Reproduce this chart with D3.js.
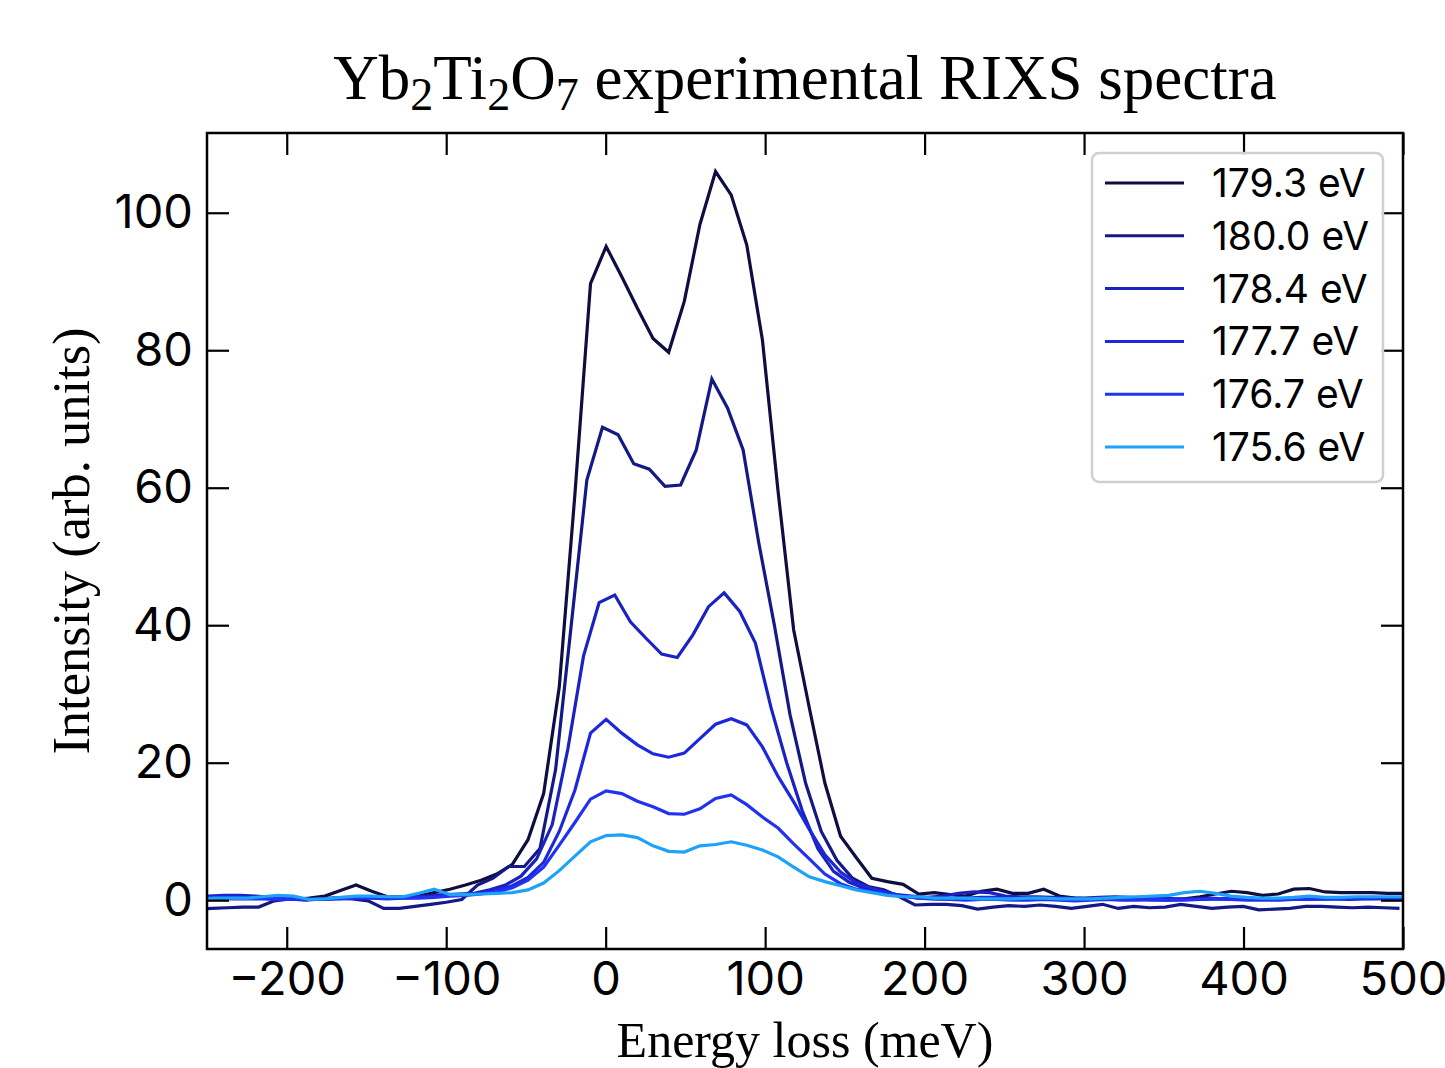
<!DOCTYPE html>
<html lang="en">
<head>
    <meta charset="UTF-8">
    <title>Yb2Ti2O7 experimental RIXS spectra</title>
    <script src="https://d3js.org/d3.v7.min.js"></script>
    <style>
        body { margin: 0; background: #fff; }
        .tick text { font-family: Inter, "Noto Sans", sans-serif; }
        .serif { font-family: "Liberation Serif", "DejaVu Serif", serif; }
    </style>
</head>
<body>
    <div id="chart"></div>
    <script>
        // Energy loss grid (meV), shared by all spectra
        const energy = [
            -254.5, -244.7, -234.9, -225.1, -215.3, -205.5, -195.7, -185.9, -176.1, -166.3,
            -156.5, -146.7, -136.9, -127.1, -117.3, -107.5, -97.7, -87.9, -78.1, -68.3,
            -58.5, -48.7, -38.9, -29.1, -19.3, -9.5, 0.3, 10.1, 19.9, 29.7,
            39.5, 49.3, 59.1, 68.9, 78.7, 88.5, 98.3, 108.1, 117.9, 127.7,
            137.5, 147.3, 157.1, 166.9, 176.7, 186.5, 196.3, 206.1, 215.9, 225.7,
            235.5, 245.3, 255.1, 264.9, 274.7, 284.5, 294.3, 304.1, 313.9, 323.7,
            333.5, 343.3, 353.1, 362.9, 372.7, 382.5, 392.3, 402.1, 411.9, 421.7,
            431.5, 441.3, 451.1, 460.9, 470.7, 480.5, 490.3, 500.1
        ];

        // Legend order
        const labels = ["179.3 eV", "180.0 eV", "178.4 eV", "177.7 eV", "176.7 eV", "175.6 eV"];
        const colors = ["#0e0e40", "#131985", "#1b22c2", "#1c28dc", "#2133f0", "#1ea2f8"];
        // small calibration offsets of each spectrum on the energy axis (meV)
        const energyShift = [0, -2.3, -4.4, 0, 0, 0];

        const s1793 = [
            0.4, 0.5, 0.6, 0.5, 0.3, 0.2, 0.1, 0.3, 0.6, 1.4, 2.2, 1.3, 0.5, 0.4, 0.6, 1.1, 1.6, 2.2,
            2.9, 3.8, 5.2, 8.8, 15.5, 31, 59, 89.7,
            95.1, 90.7, 86.1, 81.7, 79.7, 87.1, 98.3, 106.0, 102.6, 95.3, 81.5, 59.5, 39.3, 28.0, 17.0, 9.3, 6.2,
            3.2, 2.7, 2.3, 0.9, 1.1, 0.8, 0.6, 1.3, 1.6, 1.0, 1.0, 1.6, 0.6, 0.3, 0.2, 0.2, 0.2, 0.2,
            0.1, 0.1, 0.2, 0.5, 0.9, 1.3, 1.1, 0.7, 0.9, 1.6, 1.7, 1.2, 1.1, 1.1, 1.1, 1.0, 1.0
        ];
        const s1800 = [
            -1.3, -1.2, -1.1, -1.0, -1.0, -0.1, 0.2, 0.0, 0.2, 0.3, 0.2, -0.1, -1.2, -1.2, -0.9, -0.6, -0.3, 0.1,
            2.2, 3.2, 4.9, 4.9, 7.5, 19, 40, 61.1,
            68.8, 67.7, 63.5, 62.7, 60.2, 60.4, 65.5, 75.8, 71.6, 65.5, 52, 40, 27, 17, 10, 5.8, 3.2,
            2.0, 1.5, 0.5, -0.7, -0.6, -0.6, -0.8, -1.3, -1.0, -0.8, -0.9, -0.7, -0.9, -1.2, -0.9, -0.6,
            -1.2, -0.9, -1.1, -1.0, -0.6, -0.9, -1.2, -1.0, -0.9, -1.4, -1.3, -1.2, -0.9, -0.9, -1.0, -1.1, -1.0, -1.1, -1.2
        ];
        const s1784 = [
            0.6, 0.6, 0.7, 0.7, 0.6, 0.4, 0.3, 0.2, 0.2, 0.3, 0.4, 0.4, 0.3, 0.5, 0.5, 0.6, 0.8, 0.9,
            1.0, 1.5, 2.2, 3.5, 6.0, 11, 22, 35.5,
            43.3, 44.4, 40.5, 38.1, 35.8, 35.3, 38.6, 42.7, 44.7, 42.0, 37.4, 28, 20, 13, 7.5, 4.2, 2.6,
            1.7, 1.2, 0.8, 0.6, 0.4, 0.6, 1.0, 1.2, 1.1, 0.6, 0.5, 0.5, 0.4, 0.3, 0.3, 0.4, 0.5, 0.4,
            0.3, 0.3, 0.2, 0.2, 0.3, 0.2, 0.1, 0.1, 0.2, 0.2, 0.3, 0.2, 0.2, 0.1, 0.2, 0.3, 0.3
        ];
        const s1777 = [
            0.4, 0.5, 0.5, 0.4, 0.3, 0.3, 0.2, 0.1, 0.1, 0.2, 0.3, 0.4, 0.4, 0.3, 0.4, 0.5, 0.7, 0.8,
            1.0, 1.4, 2.1, 3.3, 5.5, 10, 16, 24.3,
            26.3, 24.3, 22.6, 21.3, 20.8, 21.4, 23.5, 25.6, 26.4, 25.5, 22.3, 18.0, 14.3, 10.3, 6.6, 4.1, 2.5,
            1.7, 1.1, 0.6, 0.3, 0.2, 0.2, 0.3, 0.4, 0.4, 0.3, 0.2, 0.1, 0.1, 0.0, 0.1, 0.2, 0.2,
            0.1, 0.0, 0.0, 0.1, 0.1, 0.2, 0.2, 0.1, 0.1, 0.0, 0.1, 0.2, 0.2, 0.3, 0.3, 0.2, 0.2, 0.3
        ];
        const s1767 = [
            0.3, 0.3, 0.2, 0.2, 0.2, 0.1, 0.1, 0.1, 0.2, 0.3, 0.3, 0.3, 0.2, 0.3, 0.3, 0.4, 0.6, 0.7,
            0.9, 1.2, 1.8, 2.9, 4.8, 8.0, 11.3, 14.7,
            15.9, 15.5, 14.4, 13.6, 12.6, 12.5, 13.3, 14.8, 15.3, 13.9, 12.1, 10.5, 8.2, 6.0, 3.8, 2.4, 1.6,
            1.2, 0.9, 0.6, 0.3, 0.2, 0.1, 0.0, 0.1, 0.1, 0.0, 0.0, 0.1, 0.0, -0.1, 0.0, 0.1, 0.0,
            0.0, 0.1, 0.0, 0.0, 0.1, 0.2, 0.1, 0.0, 0.0, 0.1, 0.1, 0.1, 0.2, 0.2, 0.3, 0.4, 0.3, 0.3
        ];
        const s1756 = [
            0.2, 0.3, 0.3, 0.3, 0.5, 0.7, 0.6, 0.1, 0.2, 0.4, 0.6, 0.6, 0.5, 0.5, 1.0, 1.6, 0.8, 0.8,
            0.9, 1.0, 1.1, 1.5, 2.5, 4.3, 6.4, 8.5,
            9.4, 9.5, 9.1, 7.9, 7.1, 7.0, 7.9, 8.1, 8.5, 8.0, 7.3, 6.3, 4.8, 3.4, 2.7, 2.1, 1.5,
            1.1, 0.7, 0.5, 0.5, 0.3, 0.3, 0.3, 0.2, 0.2, 0.2, 0.3, 0.3, 0.2, 0.2, 0.2, 0.3, 0.4,
            0.5, 0.6, 0.7, 1.1, 1.3, 1.0, 0.6, 0.4, 0.3, 0.3, 0.4, 0.6, 0.4, 0.4, 0.5, 0.5, 0.5, 0.5
        ];
        const spectra = [s1793, s1800, s1784, s1777, s1767, s1756];

        const xTicks = [-200, -100, 0, 100, 200, 300, 400, 500];
        const yTicks = [0, 20, 40, 60, 80, 100];
        const xDomain = [-250, 500];
        const yDomain = [-7.1, 111.6];

        // Layout
        const W = 1445, H = 1068;
        const margin = { top: 133, right: 42, bottom: 119, left: 207 };
        const width = W - margin.left - margin.right;
        const height = H - margin.top - margin.bottom;
        const tickLen = 22;

        const svg = d3.select("#chart").append("svg")
            .attr("width", W)
            .attr("height", H);

        const chart = svg.append("g")
            .attr("transform", `translate(${margin.left},${margin.top})`);

        const x = d3.scaleLinear().domain(xDomain).range([0, width]);
        const y = d3.scaleLinear().domain(yDomain).range([height, 0]);

        chart.append("clipPath").attr("id", "plot-clip")
            .append("rect").attr("width", width).attr("height", height);

        // spectra
        const line = d3.line()
            .x(d => x(d[0]))
            .y(d => y(d[1]));

        const lines = chart.append("g").attr("clip-path", "url(#plot-clip)");
        spectra.forEach((vals, i) => {
            const pts = vals.map((v, j) => [energy[j] + energyShift[i], v]);
            lines.append("path")
                .datum(pts)
                .attr("fill", "none")
                .attr("stroke", colors[i])
                .attr("stroke-width", 3.2)
                .attr("stroke-linejoin", "miter")
                .attr("d", line);
        });

        // Axes: ticks pointing inward on all four sides
        function styleAxis(g) {
            g.select(".domain").remove();
            g.selectAll(".tick line").attr("stroke", "#000").attr("stroke-width", 2.2);
            g.selectAll(".tick text").attr("fill", "#000").style("font-size", "47px");
        }

        chart.append("g")
            .attr("transform", `translate(0,${height})`)
            .call(d3.axisBottom(x).tickValues(xTicks).tickSize(-tickLen).tickPadding(13))
            .call(styleAxis);

        chart.append("g")
            .call(d3.axisTop(x).tickValues(xTicks).tickSize(-tickLen).tickFormat(""))
            .call(styleAxis);

        chart.append("g")
            .call(d3.axisLeft(y).tickValues(yTicks).tickSize(-tickLen).tickPadding(14))
            .call(styleAxis);

        chart.append("g")
            .attr("transform", `translate(${width},0)`)
            .call(d3.axisRight(y).tickValues(yTicks).tickSize(-tickLen).tickFormat(""))
            .call(styleAxis);

        // Frame
        chart.append("rect")
            .attr("width", width)
            .attr("height", height)
            .attr("fill", "none")
            .attr("stroke", "#000")
            .attr("stroke-width", 2.5);

        // Legend
        const legend = chart.append("g")
            .attr("transform", `translate(${width - 311},20)`);
        legend.append("rect")
            .attr("width", 291)
            .attr("height", 329)
            .attr("rx", 7)
            .attr("fill", "#fff")
            .attr("fill-opacity", 0.85)
            .attr("stroke", "#cfcfcf")
            .attr("stroke-width", 2.5);
        labels.forEach((lab, i) => {
            const ly = 30 + i * 52.8;
            legend.append("line")
                .attr("x1", 13).attr("x2", 92)
                .attr("y1", ly).attr("y2", ly)
                .attr("stroke", colors[i])
                .attr("stroke-width", 3);
            legend.append("text")
                .attr("x", 120)
                .attr("y", ly)
                .attr("dy", "0.36em")
                .style("font-family", "Inter, 'Noto Sans', sans-serif")
                .style("font-size", "39px")
                .attr("fill", "#000")
                .text(lab);
        });

        // Title with subscripts
        const title = svg.append("text")
            .attr("class", "serif")
            .attr("x", margin.left + width / 2)
            .attr("y", 99)
            .attr("text-anchor", "middle")
            .style("font-size", "63px")
            .attr("fill", "#000");
        const parts = [["Yb", 0], ["2", 1], ["Ti", 0], ["2", 1], ["O", 0], ["7", 1], [" experimental RIXS spectra", 0]];
        let prevSub = 0;
        parts.forEach(([t, sub]) => {
            const shift = (sub - prevSub) * 11;
            title.append("tspan")
                .attr("dy", shift)
                .style("font-size", sub ? "46px" : "63px")
                .text(t);
            prevSub = sub;
        });

        // Axis labels
        svg.append("text")
            .attr("class", "serif")
            .attr("x", margin.left + width / 2)
            .attr("y", 1057)
            .attr("text-anchor", "middle")
            .style("font-size", "50px")
            .attr("fill", "#000")
            .text("Energy loss (meV)");

        svg.append("text")
            .attr("class", "serif")
            .attr("transform", `translate(89,${margin.top + height / 2}) rotate(-90)`)
            .attr("text-anchor", "middle")
            .style("font-size", "52.5px")
            .attr("fill", "#000")
            .text("Intensity (arb. units)");
    </script>
</body>
</html>
